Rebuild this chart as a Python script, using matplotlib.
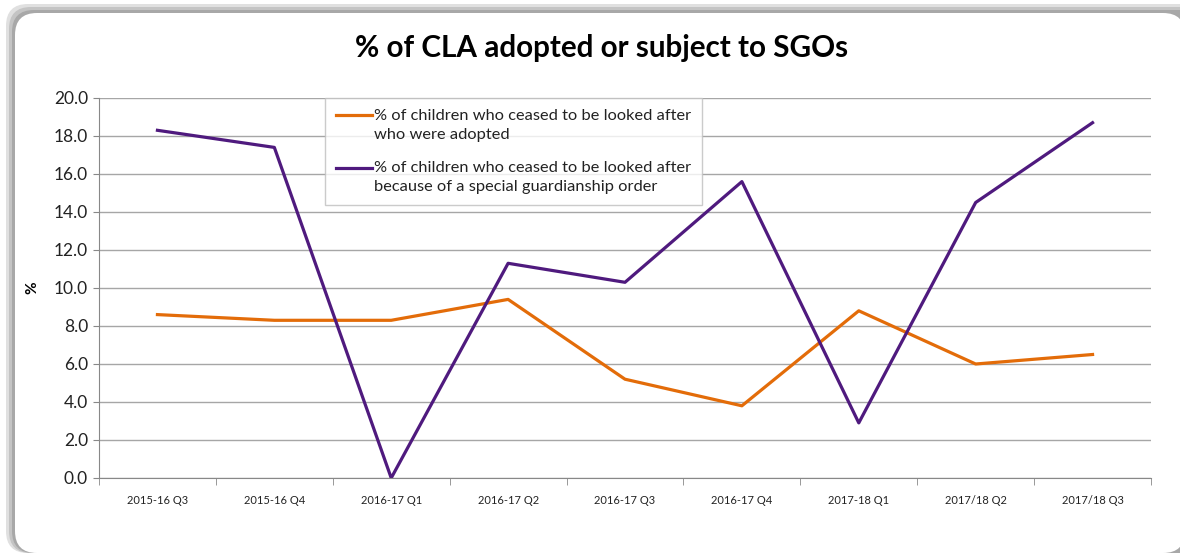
import matplotlib
matplotlib.use("Agg")
import matplotlib.pyplot as plt
from matplotlib.patches import FancyBboxPatch
from matplotlib.legend_handler import HandlerLine2D

categories = ["2015-16 Q3", "2015-16 Q4", "2016-17 Q1", "2016-17 Q2", "2016-17 Q3",
              "2016-17 Q4", "2017-18 Q1", "2017/18 Q2", "2017/18 Q3"]
adopted = [8.6, 8.3, 8.3, 9.4, 5.2, 3.8, 8.8, 6.0, 6.5]
sgo = [18.3, 17.4, 0.0, 11.3, 10.3, 15.6, 2.9, 14.5, 18.7]
label_adopted = "% of children who ceased to be looked after\nwho were adopted"
label_sgo = "% of children who ceased to be looked after\nbecause of a special guardianship order"
title = "% of CLA adopted or subject to SGOs"
yticks = [0, 2, 4, 6, 8, 10, 12, 14, 16, 18, 20]

plt.rcParams['font.family'] = ['Lato', 'DejaVu Sans']


class UpHandler(HandlerLine2D):
    def create_artists(self, legend, orig_handle, xdescent, ydescent, width, height,
                       fontsize, trans):
        arts = super().create_artists(legend, orig_handle, xdescent, ydescent, width,
                                      height, fontsize, trans)
        for a in arts:
            a.set_ydata([y + 0.6 * fontsize for y in a.get_ydata()])
        return arts


W, H = 1180, 555
fig = plt.figure(figsize=(W / 100, H / 100), dpi=100)
fig.patch.set_facecolor("white")

# shadow + panel (pixel coords, origin bottom-left)
for off, col in [(9, "#e0e0e0"), (6, "#c4c4c4"), (3, "#a8a8a8")]:
    sh = FancyBboxPatch((0, 0), 1, 1, boxstyle="round,pad=0,rounding_size=22",
                        transform=None, facecolor=col, edgecolor="none", zorder=0)
    sh.set_bounds(15 - off, H - 553, 1220, 553 - 13 + off)
    fig.add_artist(sh)
panel = FancyBboxPatch((0, 0), 1, 1, boxstyle="round,pad=0,rounding_size=22",
                       transform=None, facecolor="white", edgecolor="none", zorder=1)
panel.set_bounds(15, H - 553, 1170, 553 - 13)
fig.add_artist(panel)

ax = fig.add_axes([99 / W, 1 - 478 / H, (1151 - 99) / W, (478 - 98) / H], zorder=2)
ax.set_facecolor("none")
x = list(range(len(categories)))
ax.plot(x, adopted, color="#E36C09", lw=2.3, label=label_adopted)
ax.plot(x, sgo, color="#4F1A7E", lw=2.3, label=label_sgo)

ax.set_xlim(-0.5, len(categories) - 0.5)
ax.set_ylim(0, 20)
ax.set_yticks(yticks)
ax.set_yticklabels([f"{v:.1f}" for v in yticks], fontsize=12.5, color="#222222")
ax.set_xticks(x)
ax.set_xticklabels(categories, fontsize=8, color="#222222")
ax.set_xticks([i - 0.5 for i in range(len(categories) + 1)], minor=True)
ax.tick_params(axis="x", which="major", length=0, pad=12)
ax.tick_params(axis="x", which="minor", length=5, color="#888888")
ax.tick_params(axis="y", length=4, color="#888888", pad=4)
ax.grid(axis="y", color="#a6a6a6", lw=1)
ax.set_axisbelow(True)
for s in ["top", "right"]:
    ax.spines[s].set_visible(False)
ax.spines["left"].set_color("#888888")
ax.spines["bottom"].set_color("#888888")
ax.set_ylabel("%", fontsize=11, fontweight="bold", labelpad=10)

fig.text(602 / W, 1 - 48 / H, title, ha="center", va="center", fontsize=21.3, fontweight="bold")

leg = ax.legend(loc="upper left", bbox_to_anchor=((325 - 99) / (1151 - 99), 1.0),
                fontsize=11.8, frameon=True, fancybox=False, handlelength=2.2,
                handletextpad=0.15, borderaxespad=0, labelspacing=1.15, borderpad=0.65,
                handler_map={matplotlib.lines.Line2D: UpHandler()})
leg.get_frame().set_edgecolor("#bfbfbf")
leg.get_frame().set_linewidth(1)
for t in leg.get_texts():
    t.set_color("#222222")
    t.set_linespacing(1.5)

fig.savefig("out.png", dpi=100, facecolor="white")
